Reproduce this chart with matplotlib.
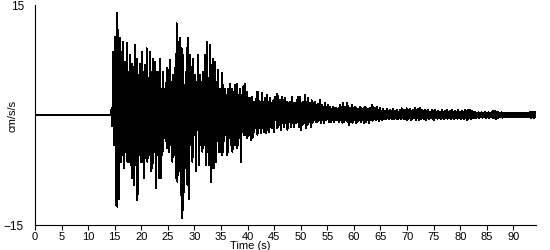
import numpy as np
import matplotlib
matplotlib.use("Agg")
import matplotlib.pyplot as plt

# ── Record values (cm/s/s) ────────────────────────────────────────────────────
# quiet pre-event part
pre_time = [0.0, 14.3]
pre_acc = [0.0, 0.0]

# strong-motion part: one upper and one lower peak per sample step
T_START = 14.42   # s
DT = 0.3136       # s between peak pairs

peak_hi = [
    1.0, 8.6, 10.7, 13.9, 11.6, 10.5, 8.6, 10.0, 7.3, 9.8, 5.9, 8.2, 7.0, 6.5, 9.5, 7.7,
    5.5, 7.0, 8.6, 5.9, 6.8, 9.1, 5.0, 8.6, 5.9, 7.7, 7.3, 5.9, 5.9, 7.7, 3.6, 5.9, 3.6,
    6.4, 6.1, 7.5, 4.5, 5.5, 6.4, 12.5, 10.0, 10.5, 9.1, 8.2, 4.1, 9.1, 10.5, 8.2, 6.6,
    7.7, 5.5, 4.5, 8.2, 5.5, 4.5, 5.9, 8.2, 10.0, 5.0, 9.5, 6.8, 7.7, 7.3, 4.5, 6.1, 3.6,
    5.7, 4.1, 3.6, 2.7, 3.6, 4.3, 3.6, 3.2, 4.1, 4.3, 2.7, 3.6, 2.7, 3.9, 4.3, 3.2,
    2.3, 2.3, 2.5, 1.8, 1.8, 3.2, 3.2, 1.8, 3.0, 1.8, 2.3, 2.7, 1.8, 2.3, 1.6, 2.0, 2.5,
    2.9, 2.6, 2.0, 2.5, 2.0, 2.3, 1.8, 1.6, 1.8, 2.5, 1.6, 1.6, 2.0, 2.5, 2.5, 1.6,
    1.8, 2.7, 1.8, 2.3, 1.6, 2.0, 1.6, 1.8, 1.4, 1.5, 2.0, 1.4, 1.1, 1.6, 1.1, 1.4,
    1.1, 0.8, 1.1, 0.9, 0.9, 0.9,
    1.4, 1.1, 1.6, 1.1, 1.7, 1.2, 0.9, 1.4, 0.9, 1.1, 0.9, 0.8, 1.1, 0.9, 0.9, 1.1,
    0.9, 0.8, 0.9, 1.4, 1.1, 0.9, 1.1, 0.7, 0.9, 0.6, 0.8, 0.6, 0.8, 0.6, 0.7, 0.6,
    0.8, 0.6, 0.7, 0.45, 0.7, 0.9, 0.7,
    0.7, 0.9, 0.7, 0.8, 0.55, 0.7, 0.9, 0.7, 0.8, 0.9, 0.7, 0.55, 0.7, 0.55, 0.7, 0.45,
    0.7, 0.55, 0.7, 0.45, 0.55, 0.45, 0.7, 0.45, 0.55, 0.7, 0.45, 0.55, 0.7, 0.45,
    0.55, 0.45, 0.7, 0.45, 0.55, 0.45, 0.7, 0.55, 0.7,
    0.7, 0.55, 0.45, 0.36, 0.27, 0.36, 0.27, 0.36, 0.23, 0.36, 0.27, 0.36, 0.3, 0.36,
    0.55, 0.6, 0.45, 0.36, 0.27, 0.36, 0.27, 0.3, 0.27, 0.3, 0.23, 0.27, 0.23, 0.27,
    0.23, 0.27, 0.23, 0.27, 0.3, 0.23, 0.27, 0.3, 0.45, 0.36, 0.45, 0.36,
]

peak_lo = [
    -1.5, -4.1, -12.3, -12.5, -11.4, -6.4, -5.5, -7.3, -5.0, -6.4, -6.4, -6.8, -8.6, -9.5,
    -6.8, -11.6, -5.5, -6.4, -6.4, -8.6, -5.9, -6.4, -5.5, -7.7, -7.3, -5.0, -10.0, -5.5,
    -8.6, -8.6, -5.5, -3.2, -3.6,
    -4.5, -5.0, -4.1, -6.4, -5.5, -8.6, -9.1, -7.7, -10.9, -14.1, -10.5, -7.3, -9.5,
    -11.4, -4.1, -6.4, -2.7, -7.7, -2.0, -6.8, -4.1, -5.0, -4.1, -6.8, -5.0, -6.8, -9.1,
    -7.3, -7.3, -6.4, -3.6, -5.0, -5.0,
    -5.5, -3.6, -2.7, -5.5, -3.2, -4.1, -5.0, -4.1, -4.1, -4.5, -3.2, -6.4, -2.3, -2.7,
    -2.7, -3.2, -2.7, -3.4, -3.2, -2.3, -1.8, -2.7, -1.8, -2.5, -1.8, -2.3, -2.5, -2.0,
    -2.3, -1.6, -1.8, -2.3, -0.7,
    -1.8, -1.4, -2.0, -1.1, -1.6, -1.1, -2.0, -0.9, -1.6, -1.1, -1.6, -1.1, -0.9, -1.6,
    -2.0, -1.4, -1.1, -1.8, -1.4, -0.9, -1.6, -1.1, -0.7, -0.9, -0.9, -0.7, -1.1, -0.7,
    -1.1, -0.7, -0.6, -0.9, -0.9, -0.7, -0.9, -0.7, -0.7, -0.9,
    -0.7, -1.1, -0.9, -0.7, -0.9, -1.4, -0.9, -1.1, -0.7, -1.1, -0.9, -0.7, -0.9, -0.7,
    -1.1, -0.9, -0.7, -1.1, -0.7, -0.8, -0.6, -0.7, -0.6, -0.8, -0.6, -0.7, -0.6, -0.6,
    -0.45, -0.6, -0.45, -0.6, -0.6, -0.45, -0.6, -0.45, -0.6, -0.45, -0.6,
    -0.55, -0.7, -0.45, -0.7, -0.55, -0.45, -0.7, -0.45, -0.7, -0.55, -0.45, -0.55,
    -0.7, -0.45, -0.55, -0.45, -0.55, -0.7, -0.45, -0.55, -0.45, -0.55, -0.45, -0.55,
    -0.45, -0.55, -0.45, -0.55, -0.45, -0.55, -0.45, -0.55, -0.45, -0.55, -0.45, -0.55,
    -0.45, -0.7, -0.45,
    -0.55, -0.45, -0.45, -0.36, -0.27, -0.36, -0.27, -0.36, -0.27, -0.36, -0.27, -0.36,
    -0.3, -0.36, -0.45, -0.5, -0.45, -0.3, -0.27, -0.36, -0.27, -0.27, -0.27, -0.3,
    -0.27, -0.27, -0.23, -0.27, -0.23, -0.27, -0.27, -0.23, -0.27, -0.23, -0.27, -0.3,
    -0.36, -0.3, -0.36, -0.27,
]

x_ticks = [0, 5, 10, 15, 20, 25, 30, 35, 40, 45, 50, 55, 60, 65, 70, 75, 80, 85, 90]
y_ticks = [-15, 15]

# ── Build trace: upper peak, then lower peak half a step later ────────────────
n = min(len(peak_hi), len(peak_lo))
t_hi = T_START + DT * np.arange(n)
t_lo = t_hi + DT / 2
trace_t = np.concatenate([[pre_time[-1]], np.column_stack([t_hi, t_lo]).ravel()])
trace_a = np.concatenate([[pre_acc[-1]],
                          np.column_stack([peak_hi[:n], peak_lo[:n]]).ravel()])

plt.rcParams["font.family"] = ["Liberation Sans", "DejaVu Sans"]

fig = plt.figure(figsize=(5.5, 2.5), dpi=100)
ax = fig.add_axes([35 / 550, 25 / 250, 501 / 550, 220 / 250])

ax.plot(pre_time, pre_acc, color="black", linewidth=1.1, antialiased=False)
ax.plot(trace_t, trace_a, color="black", linewidth=0.7, antialiased=False)

ax.set_xlim(0, 501 / 5.315)
ax.set_ylim(-15, 15)
ax.set_xticks(x_ticks)
ax.set_yticks(y_ticks)
ax.tick_params(axis="x", length=3.6, width=0.8, pad=1.5, labelsize=8)
ax.tick_params(axis="y", length=0, pad=8, labelsize=8.5)
ax.spines[["top", "right"]].set_visible(False)
for s in ("left", "bottom"):
    ax.spines[s].set_linewidth(0.8)

fig.text(250 / 550, 1 - 246 / 250, "Time (s)", ha="center", va="center", fontsize=8)
fig.text(12 / 550, 1 - 116 / 250, "cm/s/s", ha="center", va="center",
         rotation=90, fontsize=8)

fig.savefig("out.png", dpi=100)
